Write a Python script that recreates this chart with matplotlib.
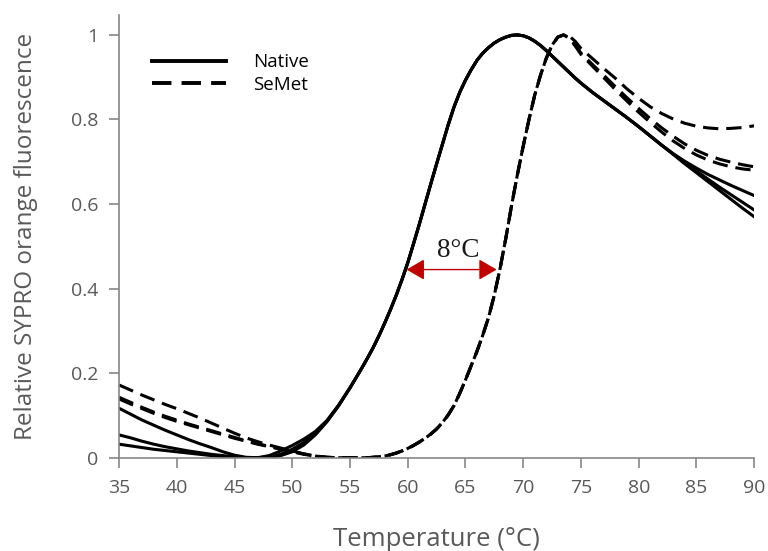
import matplotlib.pyplot as plt

# temperature grid: 1 degree steps, finer through the melting region
temp = list(range(35, 55)) + [55 + 0.5 * i for i in range(41)] + list(range(76, 91))

# native protein (three replicates)
native_a_low = [0.117, 0.103, 0.089, 0.077, 0.065, 0.054, 0.043, 0.033, 0.024, 0.014,
                0.006, 0.001, 0.000, 0.005, 0.016, 0.029, 0.044, 0.062, 0.088, 0.124]
native_b_low = [0.054, 0.047, 0.039, 0.032, 0.026, 0.021, 0.016, 0.012, 0.008, 0.005,
                0.002, 0.000, 0.000, 0.002, 0.008, 0.020, 0.036, 0.057, 0.086, 0.123]
native_c_low = [0.032, 0.028, 0.024, 0.020, 0.017, 0.014, 0.011, 0.008, 0.005, 0.003,
                0.001, 0.000, 0.000, 0.001, 0.005, 0.014, 0.030, 0.054, 0.085, 0.122]
native_rise = [0.188, 0.211, 0.235, 0.260, 0.288, 0.318, 0.350, 0.384, 0.421,
               0.461, 0.506, 0.552, 0.600, 0.648, 0.695, 0.741, 0.787, 0.829, 0.864,
               0.893, 0.918, 0.940, 0.957, 0.970, 0.981, 0.989, 0.995, 0.999, 1.000,
               0.998, 0.993, 0.985, 0.975, 0.963, 0.950, 0.937, 0.924, 0.911, 0.898,
               0.886]
native_a_tail = [0.864, 0.844, 0.824, 0.804, 0.783, 0.761, 0.739, 0.719, 0.701, 0.685,
                 0.670, 0.657, 0.644, 0.632, 0.620]
native_b_tail = [0.864, 0.844, 0.824, 0.804, 0.783, 0.761, 0.739, 0.718, 0.698, 0.678,
                 0.659, 0.640, 0.622, 0.604, 0.586]
native_c_tail = [0.864, 0.844, 0.824, 0.804, 0.783, 0.761, 0.739, 0.717, 0.695, 0.674,
                 0.653, 0.632, 0.611, 0.590, 0.570]

# SeMet protein (three replicates)
semet_a_low = [0.172, 0.160, 0.148, 0.137, 0.126, 0.116, 0.105, 0.094, 0.082, 0.070,
               0.058, 0.047, 0.038, 0.030, 0.023, 0.016, 0.009, 0.004, 0.001, 0.000]
semet_b_low = [0.143, 0.131, 0.119, 0.108, 0.098, 0.089, 0.080, 0.072, 0.064, 0.056,
               0.048, 0.040, 0.033, 0.027, 0.021, 0.015, 0.009, 0.004, 0.001, 0.000]
semet_c_low = [0.139, 0.127, 0.116, 0.105, 0.095, 0.086, 0.078, 0.070, 0.062, 0.054,
               0.046, 0.039, 0.032, 0.026, 0.020, 0.014, 0.008, 0.004, 0.001, 0.000]
semet_rise = [0.000, 0.000, 0.000, 0.000, 0.001, 0.002, 0.004, 0.007, 0.011, 0.016,
              0.022, 0.029, 0.037, 0.046, 0.056, 0.068, 0.083, 0.101, 0.123, 0.152,
              0.184, 0.218, 0.252, 0.290, 0.332, 0.385, 0.448, 0.520, 0.598, 0.670,
              0.737, 0.800, 0.858, 0.905, 0.945, 0.976, 0.995, 1.000]
semet_a_tail = [0.997, 0.985, 0.968, 0.944, 0.920, 0.897, 0.872, 0.850, 0.830, 0.814,
                0.801, 0.791, 0.784, 0.780, 0.778, 0.779, 0.781, 0.785]
semet_b_tail = [0.993, 0.976, 0.957, 0.930, 0.904, 0.877, 0.851, 0.826, 0.802, 0.780,
                0.760, 0.742, 0.727, 0.715, 0.706, 0.699, 0.693, 0.688]
semet_c_tail = [0.992, 0.974, 0.954, 0.926, 0.898, 0.870, 0.843, 0.817, 0.793, 0.770,
                0.749, 0.731, 0.716, 0.704, 0.695, 0.688, 0.683, 0.680]

native = [native_a_low + [0.166] + native_rise + native_a_tail,
          native_b_low + [0.165] + native_rise + native_b_tail,
          native_c_low + [0.165] + native_rise + native_c_tail]
semet = [semet_a_low + semet_rise + semet_a_tail,
         semet_b_low + semet_rise + semet_b_tail,
         semet_c_low + semet_rise + semet_c_tail]

native_tm = 59.9
semet_tm = 67.7
tm_level = 0.445

plt.rcParams['font.family'] = ['Open Sans', 'DejaVu Sans']
grey = '#595959'

fig = plt.figure(figsize=(7.68, 5.51), dpi=100)
ax = fig.add_axes([0.155, 0.1693, 0.827, 0.8034])

dash = (0, (5, 2.6))
for i, y in enumerate(native):
    ax.plot(temp, y, color='black', linewidth=2.2, label='Native' if i == 0 else None)
for i, y in enumerate(semet):
    ax.plot(temp, y, color='black', linewidth=2.2, linestyle=dash,
            label='SeMet' if i == 0 else None)

ax.annotate('', xy=(native_tm, tm_level), xytext=(semet_tm, tm_level),
            arrowprops=dict(arrowstyle='<|-|>,head_length=0.55,head_width=0.32',
                            color='#c00000', lw=1, mutation_scale=20,
                            shrinkA=0, shrinkB=0))
ax.text(64.4, 0.475, '8°C', ha='center', va='baseline',
        fontsize=19.5, family='Liberation Serif', color='#1a1a1a')

ax.set_xlim(35, 90)
ax.set_ylim(0, 1.047)
ax.set_xticks(range(35, 91, 5))
ax.set_yticks([0, 0.2, 0.4, 0.6, 0.8, 1])
ax.set_yticklabels(['0', '0.2', '0.4', '0.6', '0.8', '1'])
for s in ['top', 'right']:
    ax.spines[s].set_visible(False)
for s in ['left', 'bottom']:
    ax.spines[s].set_color('#868686')
    ax.spines[s].set_linewidth(1.2)
ax.tick_params(direction='out', length=7, width=1.2, color='#868686',
               labelsize=14, labelcolor=grey, pad=8)
ax.set_xlabel('Temperature (°C)', fontsize=18.5, color=grey)
ax.set_ylabel('Relative SYPRO orange fluorescence', fontsize=17.5, color=grey)
ax.xaxis.set_label_coords(0.5, -0.157)
ax.yaxis.set_label_coords(-0.127, 0.5)

leg = ax.legend(loc='upper left', bbox_to_anchor=(0.025, 0.952), frameon=False,
                fontsize=13.5, handlelength=3.95, handletextpad=1.45, labelspacing=0.24)
for line in leg.get_lines():
    line.set_linewidth(2.8)

fig.savefig('out.png')
